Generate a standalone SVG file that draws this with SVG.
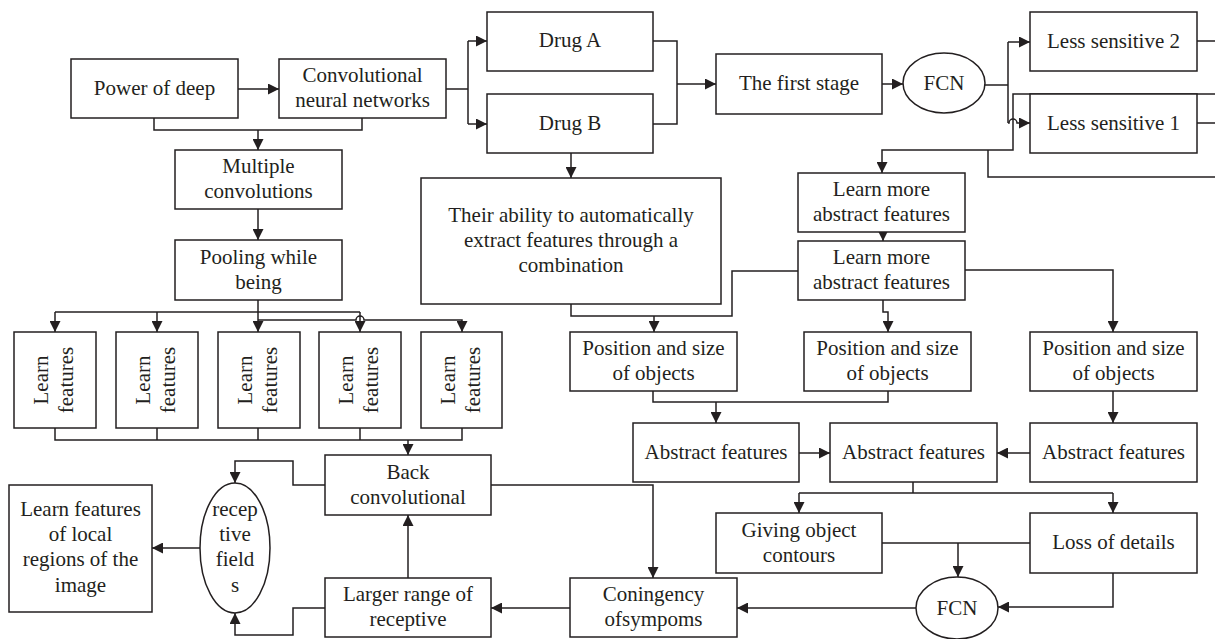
<svg xmlns="http://www.w3.org/2000/svg" width="1215" height="639" viewBox="0 0 1215 639">
<defs>
<marker id="ah" viewBox="0 0 10 10" refX="10" refY="5" markerWidth="12" markerHeight="11" markerUnits="userSpaceOnUse" orient="auto">
<path d="M0,0 L10,5 L0,10 z" fill="#231f20"/>
</marker>
<style>
.b{fill:#fff;stroke:#231f20;stroke-width:1.5}
.t{font-family:"Liberation Serif","Times New Roman",serif;font-size:21px;fill:#231f20;text-anchor:middle}
.c path{fill:none;stroke:#231f20;stroke-width:1.5}
.c path.a{marker-end:url(#ah)}
</style>
</defs>
<rect width="1215" height="639" fill="#fff"/>

<g class="c" id="connectors">
<path class="a" d="M238 89 H279"/>
<path d="M154 118 V130 H362 V118"/>
<path class="a" d="M258 130 V150"/>
<path class="a" d="M258 209 V240"/>
<path class="a" d="M258 300 V332"/>
<path d="M55 312 H360"/>
<path class="a" d="M55 312 V332"/>
<path class="a" d="M157 312 V332"/>
<path class="a" d="M360 312 V332"/>
<path class="a" d="M258 320 H356 A4 4 0 0 1 364 320 H462 V332"/>
<path d="M55 428 V440 H462 V428 M157 428 V440 M258 428 V440 M360 428 V440"/>
<path class="a" d="M408 440 V455"/>
<path class="a" d="M325 485 H293 V461 H235 V483"/>
<path class="a" d="M200 548 H152"/>
<path class="a" d="M325 608 H293 V635 H235 V613"/>
<path class="a" d="M408 578 V515"/>
<path class="a" d="M491 485 H653 V578"/>
<path class="a" d="M570 608 H491"/>
<path class="a" d="M916 608 H737"/>
<path d="M882 543 H1030"/>
<path class="a" d="M958 543 V577"/>
<path class="a" d="M1113 573 V607 H998"/>
<path d="M913 482 V493 M799 493 H1113"/>
<path class="a" d="M799 493 V513"/>
<path class="a" d="M1113 493 V513"/>
<path class="a" d="M799 453 H830"/>
<path class="a" d="M1030 453 H997"/>
<path d="M653 391 V402 H888 V391"/>
<path class="a" d="M716 402 V423"/>
<path class="a" d="M1113 391 V423"/>
<path d="M571 304 V316 H732 V271 H798"/>
<path class="a" d="M654 316 V332"/>
<path class="a" d="M883 300 V312 H888 V332"/>
<path class="a" d="M965 270 H1113 V332"/>
<path class="a" d="M883 232 V241"/>
<path d="M446 89 H468 M468 41 V124"/>
<path class="a" d="M468 41 H487"/>
<path class="a" d="M468 124 H487"/>
<path d="M653 41 H677 V124 H653"/>
<path class="a" d="M677 84 H716"/>
<path class="a" d="M571 153 V178"/>
<path class="a" d="M882 84 H903"/>
<path d="M985 85 H1008 M1008 42 V123"/>
<path class="a" d="M1008 42 H1030"/>
<path class="a" d="M1008 123 H1009 A4 4 0 0 1 1017 123 H1030"/>
<path d="M1197 41 H1215 M1197 123 H1215"/>
<path class="a" d="M1215 94 H1013 V150 H882 V173"/>
<path d="M988 150 V177 H1215"/>
</g>

<g id="power"><rect class="b" x="71" y="59" width="167" height="59"/><text class="t" x="154.5" y="95">Power of deep</text></g>
<g id="cnn"><rect class="b" x="279" y="59" width="167" height="59"/><text class="t" x="362.5" y="82">Convolutional</text><text class="t" x="362.5" y="107">neural networks</text></g>
<g id="multiple"><rect class="b" x="175" y="150" width="167" height="59"/><text class="t" x="258.5" y="173">Multiple</text><text class="t" x="258.5" y="198">convolutions</text></g>
<g id="pooling"><rect class="b" x="175" y="240" width="167" height="60"/><text class="t" x="258.5" y="264">Pooling while</text><text class="t" x="258.5" y="289">being</text></g>

<g id="lf1"><rect class="b" x="14" y="332" width="82" height="96"/><g transform="translate(55,380) rotate(-90)"><text class="t" x="0" y="-7">Learn</text><text class="t" x="0" y="18">features</text></g></g>
<g id="lf2"><rect class="b" x="116" y="332" width="82" height="96"/><g transform="translate(157,380) rotate(-90)"><text class="t" x="0" y="-7">Learn</text><text class="t" x="0" y="18">features</text></g></g>
<g id="lf3"><rect class="b" x="218" y="332" width="82" height="96"/><g transform="translate(259,380) rotate(-90)"><text class="t" x="0" y="-7">Learn</text><text class="t" x="0" y="18">features</text></g></g>
<g id="lf4"><rect class="b" x="319" y="332" width="82" height="96"/><g transform="translate(360,380) rotate(-90)"><text class="t" x="0" y="-7">Learn</text><text class="t" x="0" y="18">features</text></g></g>
<g id="lf5"><rect class="b" x="421" y="332" width="81" height="96"/><g transform="translate(461.5,380) rotate(-90)"><text class="t" x="0" y="-7">Learn</text><text class="t" x="0" y="18">features</text></g></g>

<g id="back"><rect class="b" x="325" y="455" width="166" height="60"/><text class="t" x="408" y="479">Back</text><text class="t" x="408" y="504">convolutional</text></g>
<g id="receptive"><ellipse class="b" cx="235" cy="548" rx="35" ry="65"/><text class="t" x="235" y="516">recep</text><text class="t" x="235" y="541">tive</text><text class="t" x="235" y="566">field</text><text class="t" x="235" y="592">s</text></g>
<g id="local"><rect class="b" x="9" y="485" width="143" height="127"/><text class="t" x="80.5" y="516">Learn features</text><text class="t" x="80.5" y="541">of local</text><text class="t" x="80.5" y="566">regions of the</text><text class="t" x="80.5" y="592">image</text></g>
<g id="larger"><rect class="b" x="325" y="578" width="166" height="59"/><text class="t" x="408" y="601">Larger range of</text><text class="t" x="408" y="626">receptive</text></g>
<g id="coningency"><rect class="b" x="570" y="578" width="167" height="59"/><text class="t" x="653.5" y="601">Coningency</text><text class="t" x="653.5" y="626">ofsympoms</text></g>

<g id="drugA"><rect class="b" x="487" y="12" width="166" height="59"/><text class="t" x="570" y="47">Drug A</text></g>
<g id="drugB"><rect class="b" x="487" y="94" width="166" height="59"/><text class="t" x="570" y="130">Drug B</text></g>
<g id="ability"><rect class="b" x="421" y="178" width="300" height="126"/><text class="t" x="571" y="222">Their ability to automatically</text><text class="t" x="571" y="247">extract features through a</text><text class="t" x="571" y="272">combination</text></g>
<g id="first"><rect class="b" x="716" y="54" width="166" height="60"/><text class="t" x="799" y="90">The first stage</text></g>
<g id="fcn1"><ellipse class="b" cx="944" cy="83" rx="41" ry="30"/><text class="t" x="944" y="90">FCN</text></g>
<g id="less2"><rect class="b" x="1030" y="12" width="167" height="59"/><text class="t" x="1113.5" y="48">Less sensitive 2</text></g>
<g id="less1"><rect class="b" x="1030" y="94" width="167" height="59"/><text class="t" x="1113.5" y="130">Less sensitive 1</text></g>

<g id="learnmore1"><rect class="b" x="798" y="173" width="167" height="59"/><text class="t" x="881.5" y="196">Learn more</text><text class="t" x="881.5" y="221">abstract features</text></g>
<g id="learnmore2"><rect class="b" x="798" y="241" width="167" height="59"/><text class="t" x="881.5" y="264">Learn more</text><text class="t" x="881.5" y="289">abstract features</text></g>

<g id="pos1"><rect class="b" x="570" y="332" width="167" height="59"/><text class="t" x="653.5" y="355">Position and size</text><text class="t" x="653.5" y="380">of objects</text></g>
<g id="pos2"><rect class="b" x="804" y="332" width="167" height="59"/><text class="t" x="887.5" y="355">Position and size</text><text class="t" x="887.5" y="380">of objects</text></g>
<g id="pos3"><rect class="b" x="1030" y="332" width="167" height="59"/><text class="t" x="1113.5" y="355">Position and size</text><text class="t" x="1113.5" y="380">of objects</text></g>

<g id="abs1"><rect class="b" x="633" y="423" width="166" height="59"/><text class="t" x="716" y="459">Abstract features</text></g>
<g id="abs2"><rect class="b" x="830" y="423" width="167" height="59"/><text class="t" x="913.5" y="459">Abstract features</text></g>
<g id="abs3"><rect class="b" x="1030" y="423" width="167" height="59"/><text class="t" x="1113.5" y="459">Abstract features</text></g>

<g id="giving"><rect class="b" x="716" y="513" width="166" height="60"/><text class="t" x="799" y="537">Giving object</text><text class="t" x="799" y="562">contours</text></g>
<g id="loss"><rect class="b" x="1030" y="513" width="167" height="60"/><text class="t" x="1113.5" y="549">Loss of details</text></g>
<g id="fcn2"><ellipse class="b" cx="957" cy="608" rx="41" ry="31"/><text class="t" x="957" y="615">FCN</text></g>
</svg>
